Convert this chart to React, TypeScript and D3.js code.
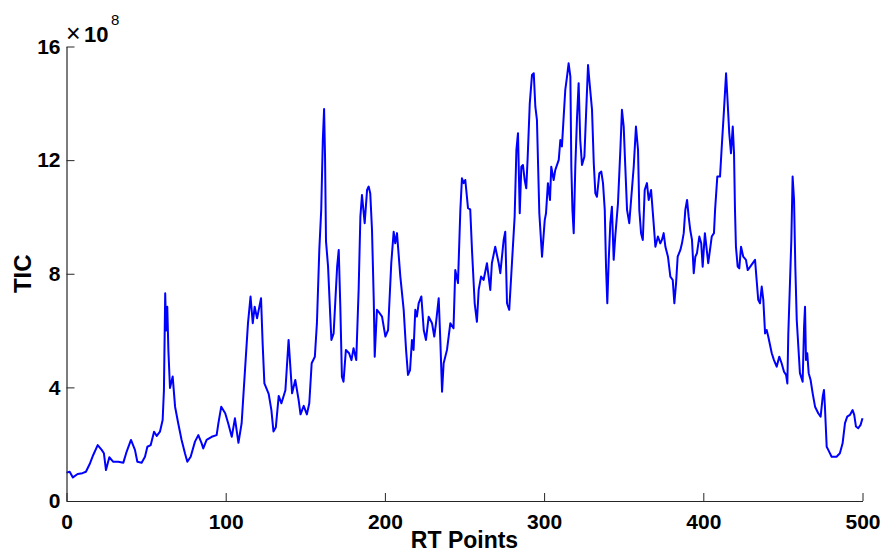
import React, { useEffect, useRef } from "react";
import * as d3 from "d3";

// RT point positions and TIC values (x 10^8)
const rtPoints = [
  0, 2, 4, 7, 10, 12.2, 14.8, 16.8, 19.6, 22.1, 23.5, 24.8, 26.9, 29.4, 32.5, 35.7, 37.8, 40.5, 43, 44.5,
  47.2, 49.3, 50.8, 52.9, 55, 56.7, 58.7, 60.4, 61.2, 62, 62.6, 63.3, 64, 65, 66.7, 68.2, 70.2, 72.3, 74.4, 75.9,
  78, 80.7, 82.8, 84.9, 85.9, 88, 91.2, 94.3, 95.4, 97.2, 99.7, 101.6, 103.8, 105.8, 108, 110, 112, 114, 115.6, 117,
  118.2, 119.7, 122.2, 123.2, 124.3, 127, 128.7, 130, 131.5, 133.3, 135, 137.5, 139.5, 140.6, 141.7, 143.7, 145.8, 147, 149, 151,
  152.5, 154, 156, 157.3, 158.8, 160, 161, 161.8, 162.4, 163, 164.3, 165.7, 166.4, 167.8, 170, 171, 172, 173, 174, 175.5,
  177.5, 179, 180.3, 182, 183.5, 184.6, 185.6, 187.3, 188.8, 189.8, 190.8, 191.9, 193, 193.6, 195, 196.7, 198.2, 200.3, 202, 204,
  205.5, 206.5, 207.6, 209.7, 211.8, 213.3, 214.5, 215.8, 217, 218, 219.1, 220.1, 221.2, 222.9, 224.4, 225.8, 227.5, 229.6, 231, 232.1,
  233.8, 234.8, 235.9, 236.9, 239, 241.1, 243.1, 244.2, 245.9, 247.4, 248.4, 249.5, 250.5, 252.2, 253.6, 254.7, 256.4, 257.8, 258.9, 260.4,
  262, 264.1, 266.2, 267.2, 269.3, 271.5, 272.5, 274.6, 275.6, 276.7, 278.1, 279.8, 281.5, 282.6, 283.6, 284.7, 285.7, 286.7, 287.8, 288.8,
  289.7, 291, 292.4, 293.5, 294.5, 295.5, 297, 298.7, 300.4, 301.2, 302.4, 303.7, 304.5, 306, 307, 309.2, 310.2, 311.2, 312.3, 313.3,
  314.4, 315.4, 316.5, 317.1, 317.8, 318.6, 319.6, 320.7, 321.7, 322.7, 323.8, 325.3, 326.3, 327.6, 328.4, 330.1, 331.2, 332.2, 333.2, 334.7,
  335.9, 337, 338.1, 338.9, 339.7, 340.6, 341.6, 342.6, 343.7, 344.7, 346.4, 347.9, 348.9, 350, 351, 352.1, 353.5, 354.8, 356.3, 357.7,
  359, 359.8, 360.9, 362, 363.2, 364.6, 365.7, 367.2, 368.8, 369.9, 371.5, 373, 374, 375.1, 376.2, 377.8, 379.3, 380.8, 381.8, 382.9,
  383.9, 385.6, 386.6, 387.7, 388.7, 389.8, 390.8, 391.8, 392.9, 394, 395, 396, 397.5, 398.7, 399.6, 401, 403.1, 405.3, 406.7, 407.4,
  408.8, 410.5, 411.6, 413, 414.3, 415.1, 416.3, 417.4, 418.5, 419.3, 419.9, 420.5, 421.6, 422.6, 423.7, 425.1, 426.8, 427.9, 429.5, 432.5,
  433.5, 434.5, 435.6, 436.7, 437.7, 438.8, 439.8, 440.8, 443, 444.4, 446.1, 447.7, 449.2, 450.7, 452, 452.8, 453.4, 454.5, 455.3, 456.1,
  457, 457.8, 458.7, 459.7, 460.7, 462.4, 463.3, 463.9, 464.5, 465.3, 466.2, 467.4, 468.7, 470.2, 472.2, 473.7, 475, 475.8, 476.4, 477.5,
  478.5, 480.6, 483.7, 485.8, 487.5, 489, 490.4, 492.1, 493.8, 494.8, 495.9, 497.3, 498.8, 500,
];

const ticValues = [
  1.0, 1.03, 0.83, 0.95, 0.98, 1.03, 1.33, 1.62, 1.97, 1.8, 1.68, 1.09, 1.54, 1.38, 1.38, 1.35, 1.74, 2.15, 1.8, 1.38,
  1.35, 1.56, 1.91, 1.97, 2.44, 2.29, 2.44, 2.85, 3.9, 7.31, 6.0, 6.84, 5.3, 3.98, 4.38, 3.32, 2.73, 2.15, 1.68, 1.38,
  1.56, 2.09, 2.32, 2.03, 1.85, 2.15, 2.26, 2.32, 2.73, 3.32, 3.09, 2.73, 2.26, 2.91, 2.05, 2.73, 4.5, 6.26, 7.2, 6.26,
  6.84, 6.43, 7.14, 5.55, 4.14, 3.77, 3.2, 2.45, 2.6, 3.7, 3.44, 3.9, 5.67, 4.73, 3.79, 4.26, 3.56, 3.05, 3.35, 3.05,
  3.44, 4.85, 5.08, 6.26, 8.84, 10.25, 12.7, 13.8, 12.12, 9.15, 8.25, 6.49, 5.67, 5.9, 8.25, 8.84, 6.84, 4.38, 4.2, 5.32,
  5.2, 4.96, 5.38, 4.96, 7.43, 10.01, 10.77, 9.78, 10.95, 11.07, 10.83, 9.54, 7.08, 5.08, 6.73, 6.61, 6.49, 5.79, 6.02, 8.37,
  9.48, 9.07, 9.43, 7.9, 6.73, 5.32, 4.44, 4.61, 5.67, 5.32, 6.73, 6.49, 6.96, 7.2, 6.02, 5.67, 6.49, 6.26, 5.79, 6.26,
  7.14, 5.67, 3.85, 4.85, 5.32, 6.26, 6.08, 8.13, 7.67, 10.25, 11.36, 11.19, 11.3, 10.31, 10.27, 8.84, 6.96, 6.31, 7.43, 7.9,
  7.78, 8.37, 7.43, 8.37, 8.95, 8.37, 8.02, 9.19, 9.48, 6.96, 6.73, 8.37, 10.01, 12.36, 12.95, 10.13, 11.77, 11.83, 11.3, 11.01,
  12.12, 14.0, 15.0, 15.06, 13.88, 13.42, 10.13, 8.6, 9.89, 10.13, 11.19, 10.6, 11.77, 11.3, 11.65, 12.01, 12.71, 12.48, 13.53, 14.47,
  14.94, 15.41, 14.94, 11.77, 10.25, 9.43, 11.77, 13.53, 14.71, 12.71, 11.83, 12.12, 13.53, 15.35, 14.82, 13.77, 11.89, 10.83, 10.71, 11.54,
  11.6, 11.19, 10.25, 8.25, 6.96, 8.49, 9.78, 10.36, 8.49, 9.31, 10.48, 12.36, 13.77, 13.18, 11.77, 10.25, 9.78, 10.71, 11.77, 13.18,
  12.36, 10.25, 9.43, 9.19, 10.95, 11.19, 10.6, 10.95, 9.78, 8.95, 9.31, 9.07, 9.19, 9.43, 8.95, 8.6, 7.9, 7.78, 6.96, 7.67,
  8.6, 8.84, 9.07, 9.43, 10.25, 10.6, 10.01, 9.54, 9.19, 8.02, 8.6, 8.72, 9.31, 9.07, 8.25, 9.43, 8.37, 9.31, 9.43, 10.25,
  11.42, 11.42, 12.48, 13.77, 15.06, 14.24, 12.95, 12.24, 13.18, 12.24, 10.25, 8.95, 8.25, 8.19, 8.95, 8.6, 8.49, 8.13, 8.25, 8.49,
  7.78, 7.08, 6.96, 7.55, 7.08, 5.9, 6.02, 5.79, 5.2, 4.96, 4.73, 5.08, 4.85, 4.55, 4.44, 4.14, 5.9, 7.78, 9.19, 11.42,
  10.6, 8.25, 6.37, 5.43, 4.5, 4.2, 6.14, 6.84, 4.96, 5.2, 4.5, 4.26, 3.79, 3.32, 3.09, 2.97, 3.67, 3.91, 3.32, 1.91,
  1.8, 1.56, 1.56, 1.68, 2.03, 2.74, 2.97, 3.03, 3.2, 3.03, 2.62, 2.56, 2.68, 2.91,
];

const xTicks = [0, 100, 200, 300, 400, 500];
const yTicks = [0, 4, 8, 12, 16];

const FONT = "'Liberation Sans', Arial, Helvetica, sans-serif";

export default function App() {
  const ref = useRef<SVGSVGElement | null>(null);

  useEffect(() => {
    const width = 885;
    const height = 552;
    const margin = { top: 46.5, right: 22.5, bottom: 51, left: 66.5 };
    const w = width - margin.left - margin.right;
    const h = height - margin.top - margin.bottom;

    const svg = d3.select(ref.current);
    svg.selectAll("*").remove();

    const g = svg.append("g").attr("transform", `translate(${margin.left},${margin.top})`);

    const x = d3.scaleLinear().domain([0, 500]).range([0, w]);
    const y = d3.scaleLinear().domain([0, 16]).range([h, 0]);

    const points = rtPoints.map((rt, i) => ({ rt, tic: ticValues[i] }));

    // trace
    const line = d3.line<{ rt: number; tic: number }>().x(d => x(d.rt)).y(d => y(d.tic));
    g.append("path")
      .datum(points)
      .attr("d", line)
      .attr("fill", "none")
      .attr("stroke", "#0000ff")
      .attr("stroke-width", 2)
      .attr("stroke-linejoin", "round");

    // axes, matlab style: ticks inward, box off
    const axisColor = "#262626";
    const xAxis = d3.axisBottom(x).tickValues(xTicks).tickSizeInner(-8).tickSizeOuter(0).tickPadding(12);
    const yAxis = d3.axisLeft(y).tickValues(yTicks).tickSizeInner(-8).tickSizeOuter(0).tickPadding(6);

    const gx = g.append("g").attr("transform", `translate(0,${h})`).call(xAxis);
    const gy = g.append("g").call(yAxis);

    [gx, gy].forEach(ax => {
      ax.select(".domain").attr("stroke", axisColor).attr("stroke-width", 1.2);
      ax.selectAll(".tick line").attr("stroke", axisColor).attr("stroke-width", 1);
      ax.selectAll(".tick text")
        .attr("fill", "#000")
        .style("font-family", FONT)
        .style("font-weight", "bold")
        .style("font-size", "21px");
    });
    gx.selectAll(".tick text").attr("dy", "0.75em");

    // exponent label
    const ex = svg.append("text").attr("x", 66).attr("y", 42).style("font-family", FONT).attr("fill", "#000");
    ex.append("tspan").style("font-size", "25px").text("×");
    ex.append("tspan").attr("x", 84).style("font-size", "22px").style("font-weight", "bold").text("10");
    ex.append("tspan").attr("x", 111).attr("y", 25).style("font-size", "15px").text("8");

    // axis titles
    svg.append("text")
      .attr("x", margin.left + w / 2)
      .attr("y", 548)
      .attr("text-anchor", "middle")
      .style("font-family", FONT)
      .style("font-weight", "bold")
      .style("font-size", "23px")
      .text("RT Points");

    svg.append("text")
      .attr("transform", `translate(31,${margin.top + h / 2}) rotate(-90)`)
      .attr("text-anchor", "middle")
      .style("font-family", FONT)
      .style("font-weight", "bold")
      .style("font-size", "24px")
      .text("TIC");
  }, []);

  return (
    <svg
      ref={ref}
      width={885}
      height={552}
      style={{ position: "absolute", left: 0, top: 0, background: "#fff" }}
    />
  );
}
